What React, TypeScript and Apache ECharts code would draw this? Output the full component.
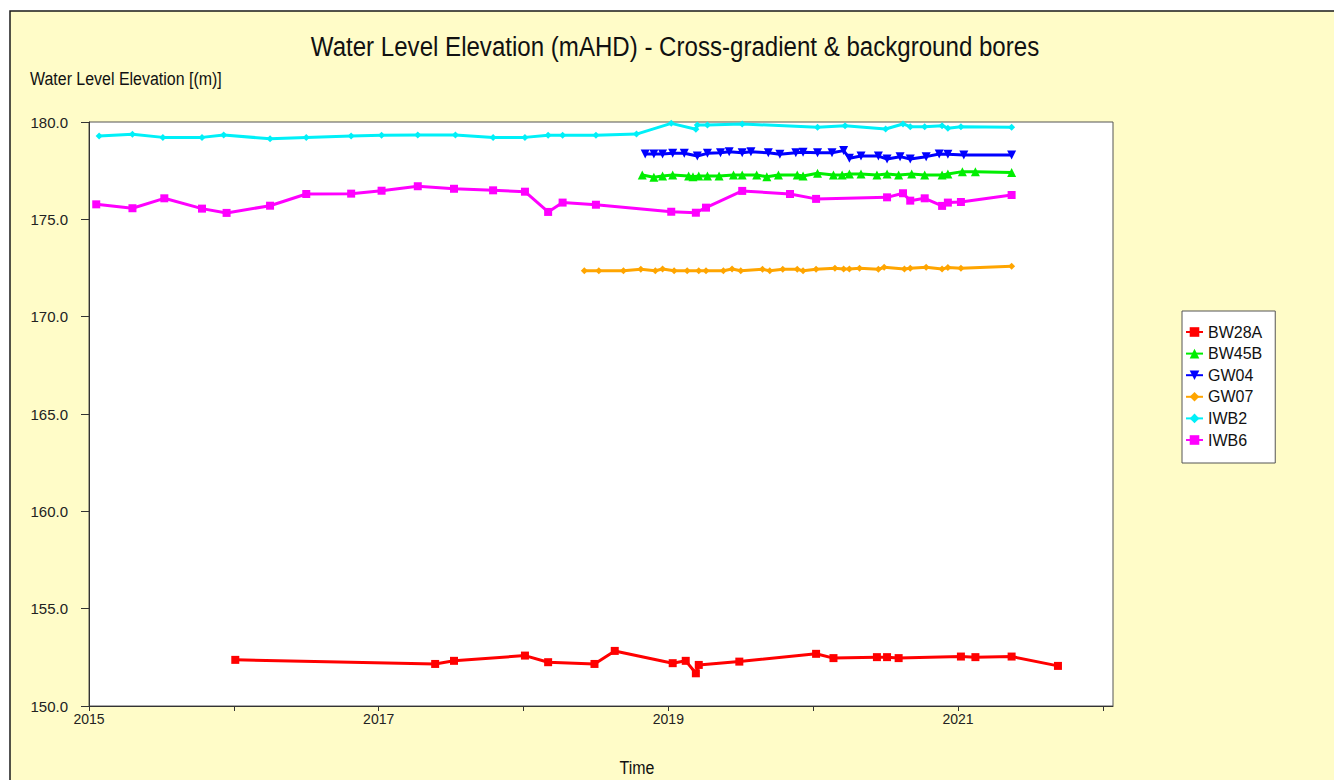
import { useEffect, useRef } from 'react';
import * as echarts from 'echarts';

const FONT = "'Liberation Sans', Arial, sans-serif";

const TITLE = 'Water Level Elevation (mAHD) - Cross-gradient & background bores';
const Y_NAME = 'Water Level Elevation [(m)]';
const X_NAME = 'Time';

const X_TICKS = [2015, 2016, 2017, 2018, 2019, 2020, 2021, 2022];
const X_LABELS = [2015, 2017, 2019, 2021];

// Time in decimal years, values in mAHD
const BW28A_T = [2016.01, 2017.39, 2017.52, 2018.01, 2018.17, 2018.49, 2018.63, 2019.03, 2019.12, 2019.19, 2019.21, 2019.49, 2020.02, 2020.14, 2020.44, 2020.51, 2020.59, 2021.02, 2021.12, 2021.37, 2021.69];
const BW28A_V = [152.37, 152.16, 152.32, 152.59, 152.25, 152.16, 152.83, 152.2, 152.32, 151.68, 152.11, 152.28, 152.68, 152.46, 152.51, 152.51, 152.46, 152.54, 152.51, 152.54, 152.06];

const BW45B_T = [2018.82, 2018.9, 2018.96, 2019.03, 2019.14, 2019.17, 2019.21, 2019.27, 2019.35, 2019.45, 2019.51, 2019.61, 2019.68, 2019.76, 2019.89, 2019.93, 2020.03, 2020.14, 2020.2, 2020.25, 2020.33, 2020.44, 2020.51, 2020.59, 2020.68, 2020.77, 2020.89, 2020.93, 2021.03, 2021.12, 2021.37];
const BW45B_V = [177.28, 177.16, 177.23, 177.28, 177.23, 177.19, 177.23, 177.23, 177.23, 177.28, 177.28, 177.28, 177.19, 177.28, 177.28, 177.23, 177.37, 177.28, 177.28, 177.33, 177.33, 177.28, 177.33, 177.28, 177.33, 177.28, 177.28, 177.33, 177.45, 177.45, 177.4];

const GW04_T = [2018.84, 2018.9, 2018.96, 2019.03, 2019.11, 2019.2, 2019.27, 2019.36, 2019.42, 2019.51, 2019.57, 2019.69, 2019.77, 2019.88, 2019.93, 2020.03, 2020.13, 2020.21, 2020.25, 2020.33, 2020.45, 2020.51, 2020.6, 2020.67, 2020.78, 2020.87, 2020.93, 2021.04, 2021.37];
const GW04_V = [178.36, 178.36, 178.36, 178.39, 178.39, 178.25, 178.39, 178.42, 178.47, 178.42, 178.47, 178.42, 178.34, 178.42, 178.44, 178.42, 178.42, 178.53, 178.14, 178.25, 178.25, 178.1, 178.22, 178.1, 178.22, 178.36, 178.34, 178.31, 178.31];

const GW07_T = [2018.42, 2018.52, 2018.69, 2018.81, 2018.91, 2018.96, 2019.04, 2019.13, 2019.21, 2019.26, 2019.38, 2019.44, 2019.5, 2019.65, 2019.7, 2019.79, 2019.89, 2019.93, 2020.02, 2020.15, 2020.21, 2020.25, 2020.32, 2020.45, 2020.49, 2020.63, 2020.67, 2020.78, 2020.89, 2020.93, 2021.02, 2021.37];
const GW07_V = [172.36, 172.36, 172.36, 172.43, 172.36, 172.45, 172.36, 172.36, 172.36, 172.36, 172.36, 172.45, 172.36, 172.43, 172.36, 172.43, 172.43, 172.36, 172.43, 172.49, 172.45, 172.45, 172.49, 172.43, 172.54, 172.45, 172.49, 172.54, 172.45, 172.52, 172.49, 172.59];

const IWB2_T = [2015.07, 2015.3, 2015.51, 2015.78, 2015.93, 2016.25, 2016.5, 2016.81, 2017.02, 2017.27, 2017.53, 2017.79, 2018.01, 2018.17, 2018.27, 2018.5, 2018.78, 2019.02, 2019.19, 2019.2, 2019.27, 2019.51, 2020.03, 2020.22, 2020.5, 2020.62, 2020.67, 2020.77, 2020.89, 2020.93, 2021.02, 2021.37];
const IWB2_V = [179.28, 179.37, 179.21, 179.21, 179.33, 179.14, 179.21, 179.28, 179.32, 179.33, 179.33, 179.21, 179.21, 179.32, 179.32, 179.32, 179.38, 179.93, 179.63, 179.85, 179.85, 179.9, 179.73, 179.81, 179.64, 179.9, 179.76, 179.76, 179.81, 179.68, 179.76, 179.73];

const IWB6_T = [2015.05, 2015.3, 2015.52, 2015.78, 2015.95, 2016.25, 2016.5, 2016.81, 2017.02, 2017.27, 2017.52, 2017.79, 2018.01, 2018.17, 2018.27, 2018.5, 2019.02, 2019.19, 2019.26, 2019.51, 2019.84, 2020.02, 2020.51, 2020.62, 2020.67, 2020.77, 2020.89, 2020.93, 2021.02, 2021.37];
const IWB6_V = [175.77, 175.57, 176.08, 175.55, 175.33, 175.7, 176.3, 176.32, 176.47, 176.7, 176.57, 176.49, 176.42, 175.38, 175.86, 175.75, 175.39, 175.34, 175.6, 176.46, 176.3, 176.05, 176.13, 176.34, 175.96, 176.08, 175.69, 175.86, 175.89, 176.25];

function lineSeries(name: string, t: number[], v: number[], color: string, symbol: string, size: number, rotate = 0) {
  return {
    name,
    type: 'line',
    data: t.map((x, i) => [x, v[i]]),
    symbol,
    symbolSize: size,
    symbolRotate: rotate,
    showSymbol: true,
    lineStyle: { color, width: 3 },
    itemStyle: { color },
    emphasis: { disabled: true },
  };
}

export default function App() {
  const ref = useRef<HTMLDivElement>(null);
  useEffect(() => {
    const chart = echarts.init(ref.current!, null, { renderer: 'svg' });
    const option: any = {
      animation: false,
      backgroundColor: '#ffffff',
      graphic: [
        {
          type: 'rect',
          z: -10,
          silent: true,
          shape: { x: 10, y: 11, width: 1340, height: 790 },
          style: { fill: '#FFFCC8', stroke: '#1a1a1a', lineWidth: 1.5 },
        },
        {
          type: 'text',
          x: 675,
          y: 46,
          scaleX: 0.86,
          style: { text: TITLE, fontSize: 28, fontFamily: FONT, fill: '#111', align: 'center', verticalAlign: 'middle' },
        },
        {
          type: 'text',
          x: 30,
          y: 79,
          scaleX: 0.84,
          style: { text: Y_NAME, fontSize: 19, fontFamily: FONT, fill: '#111', align: 'left', verticalAlign: 'middle' },
        },
        {
          type: 'text',
          x: 637,
          y: 768,
          scaleX: 0.84,
          style: { text: X_NAME, fontSize: 19, fontFamily: FONT, fill: '#111', align: 'center', verticalAlign: 'middle' },
        },
      ],
      grid: {
        left: 89,
        right: 221,
        top: 122,
        bottom: 74,
        show: true,
        backgroundColor: '#ffffff',
        borderColor: '#555',
        borderWidth: 1,
      },
      legend: {
        orient: 'vertical',
        left: 1182,
        top: 311,
        padding: [13, 13, 15, 3],
        itemGap: 5.6,
        itemWidth: 17,
        itemHeight: 12,
        backgroundColor: '#ffffff',
        borderColor: '#555',
        borderWidth: 1,
        borderRadius: 0,
        textStyle: { fontSize: 16, fontFamily: FONT, color: '#111' },
        data: ['BW28A', 'BW45B', 'GW04', 'GW07', 'IWB2', 'IWB6'],
      },
      xAxis: {
        type: 'value',
        min: 2015,
        max: 2022.07,
        splitLine: { show: false },
        axisLine: { show: true, lineStyle: { color: '#333', width: 1 } },
        axisTick: { show: true, length: 5, customValues: X_TICKS, lineStyle: { color: '#333' } },
        axisLabel: {
          customValues: X_LABELS,
          formatter: (v: number) => String(Math.round(v)),
          fontSize: 14,
          fontFamily: FONT,
          color: '#222',
          margin: 6,
        },
      },
      yAxis: {
        type: 'value',
        min: 150,
        max: 180,
        interval: 5,
        splitLine: { show: false },
        axisLine: { show: true, lineStyle: { color: '#333', width: 1 } },
        axisTick: { show: true, length: 8, lineStyle: { color: '#333' } },
        axisLabel: {
          formatter: (v: number) => v.toFixed(1),
          fontSize: 15,
          fontFamily: FONT,
          color: '#222',
          margin: 21,
        },
      },
      series: [
        lineSeries('BW28A', BW28A_T, BW28A_V, '#FF0000', 'rect', 8),
        lineSeries('BW45B', BW45B_T, BW45B_V, '#00EE00', 'triangle', 9),
        lineSeries('GW04', GW04_T, GW04_V, '#0000FF', 'triangle', 9, 180),
        lineSeries('GW07', GW07_T, GW07_V, '#FFA500', 'diamond', 7),
        lineSeries('IWB2', IWB2_T, IWB2_V, '#00F0F8', 'diamond', 7),
        lineSeries('IWB6', IWB6_T, IWB6_V, '#FF00FF', 'rect', 8),
      ],
    };
    chart.setOption(option);
    return () => chart.dispose();
  }, []);
  return (
    <div
      ref={ref}
      style={{ position: 'fixed', left: 0, top: 0, width: 1334, height: 780, background: '#fff' }}
    />
  );
}
